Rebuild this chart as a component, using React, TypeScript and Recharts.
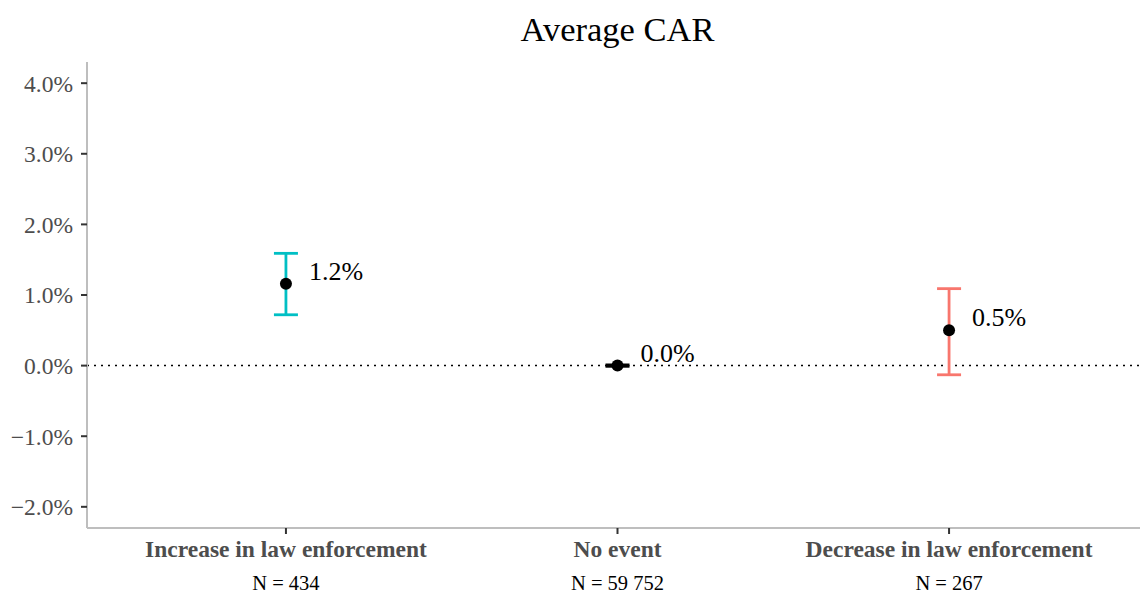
import React from "react";
import {
  ComposedChart,
  Scatter,
  ErrorBar,
  XAxis,
  YAxis,
  ReferenceLine,
  LabelList,
} from "recharts";

// Event groups and their sample sizes
const categories = [
  "Increase in law enforcement",
  "No event",
  "Decrease in law enforcement",
];
const counts = ["N = 434", "N = 59 752", "N = 267"];

// Average cumulative abnormal return (%) with confidence bounds
const means = [1.16, 0.0, 0.5];
const lower = [0.72, -0.01, -0.13];
const upper = [1.59, 0.01, 1.09];
const barColors = ["#00BFC4", "#000000", "#F8766D"];

const yTicks = [-2, -1, 0, 1, 2, 3, 4];
const xTicks = [1, 2, 3];

const FONT = "'Liberation Serif', 'Times New Roman', serif";

const rows = categories.map((name, i) => ({
  pos: i + 1,
  name,
  mean: means[i],
  err: [means[i] - lower[i], upper[i] - means[i]],
}));

const fmtPct = (v: number) =>
  (v < 0 ? "\u2212" : "") + Math.abs(v).toFixed(1) + "%";

const XTick = (props: any) => {
  const { x, y, payload } = props;
  const i = Math.round(payload.value) - 1;
  return (
    <g>
      <text
        x={x}
        y={y + 23}
        textAnchor="middle"
        fontFamily={FONT}
        fontWeight="bold"
        fontSize={23.5}
        fill="#4d4d4d"
      >
        {categories[i]}
      </text>
      <text
        x={x}
        y={y + 56}
        textAnchor="middle"
        fontFamily={FONT}
        fontSize={20.5}
        fill="#000"
      >
        {counts[i]}
      </text>
    </g>
  );
};

const Dot = (props: any) => (
  <circle cx={props.cx} cy={props.cy} r={6} fill="#000" />
);

const ValueLabel = (props: any) => {
  const vb = props.viewBox ?? props;
  const cx = vb.x + (vb.width ?? 0) / 2;
  const cy = vb.y + (vb.height ?? 0) / 2;
  return (
    <text
      x={cx + 23}
      y={cy - 13}
      dy="0.35em"
      fontFamily={FONT}
      fontSize={26}
      fill="#000"
    >
      {fmtPct(Number(props.value))}
    </text>
  );
};

export default function App() {
  return (
    <div
      style={{
        position: "absolute",
        left: 0,
        top: 0,
        width: 1140,
        height: 593,
        overflow: "hidden",
        background: "#fff",
      }}
    >
      <div
        style={{
          position: "absolute",
          left: 87,
          width: 1061,
          top: 9,
          lineHeight: "40px",
          textAlign: "center",
          fontFamily: FONT,
          fontSize: 34.5,
          color: "#000",
        }}
      >
        Average CAR
      </div>
      <ComposedChart
        width={1150}
        height={593}
        margin={{ top: 62, right: 2, bottom: 0, left: 0 }}
      >
        <XAxis
          type="number"
          dataKey="pos"
          domain={[0.4, 3.6]}
          ticks={xTicks}
          allowDataOverflow
          tickSize={6}
          tickMargin={0}
          axisLine={{ stroke: "#bebebe", strokeWidth: 2 }}
          tickLine={{ stroke: "#333333", strokeWidth: 2 }}
          tick={<XTick />}
          height={65}
        />
        <YAxis
          type="number"
          domain={[-2.3, 4.3]}
          ticks={yTicks}
          allowDataOverflow
          width={87}
          tickSize={6}
          tickMargin={8}
          tickFormatter={fmtPct}
          axisLine={{ stroke: "#bebebe", strokeWidth: 2 }}
          tickLine={{ stroke: "#333333", strokeWidth: 2 }}
          tick={{ fill: "#4d4d4d", fontSize: 23.5, fontFamily: FONT }}
        />
        <ReferenceLine
          y={0}
          stroke="#000"
          strokeWidth={1.5}
          strokeDasharray="2 5"
        />
        {rows.map((row, i) => (
          <Scatter
            key={row.name}
            data={[row]}
            dataKey="mean"
            shape={<Dot />}
            isAnimationActive={false}
          >
            <ErrorBar
              dataKey="err"
              direction="y"
              width={12}
              stroke={barColors[i]}
              strokeWidth={2.8}
              isAnimationActive={false}
            />
            <LabelList dataKey="mean" content={<ValueLabel />} />
          </Scatter>
        ))}
      </ComposedChart>
    </div>
  );
}
